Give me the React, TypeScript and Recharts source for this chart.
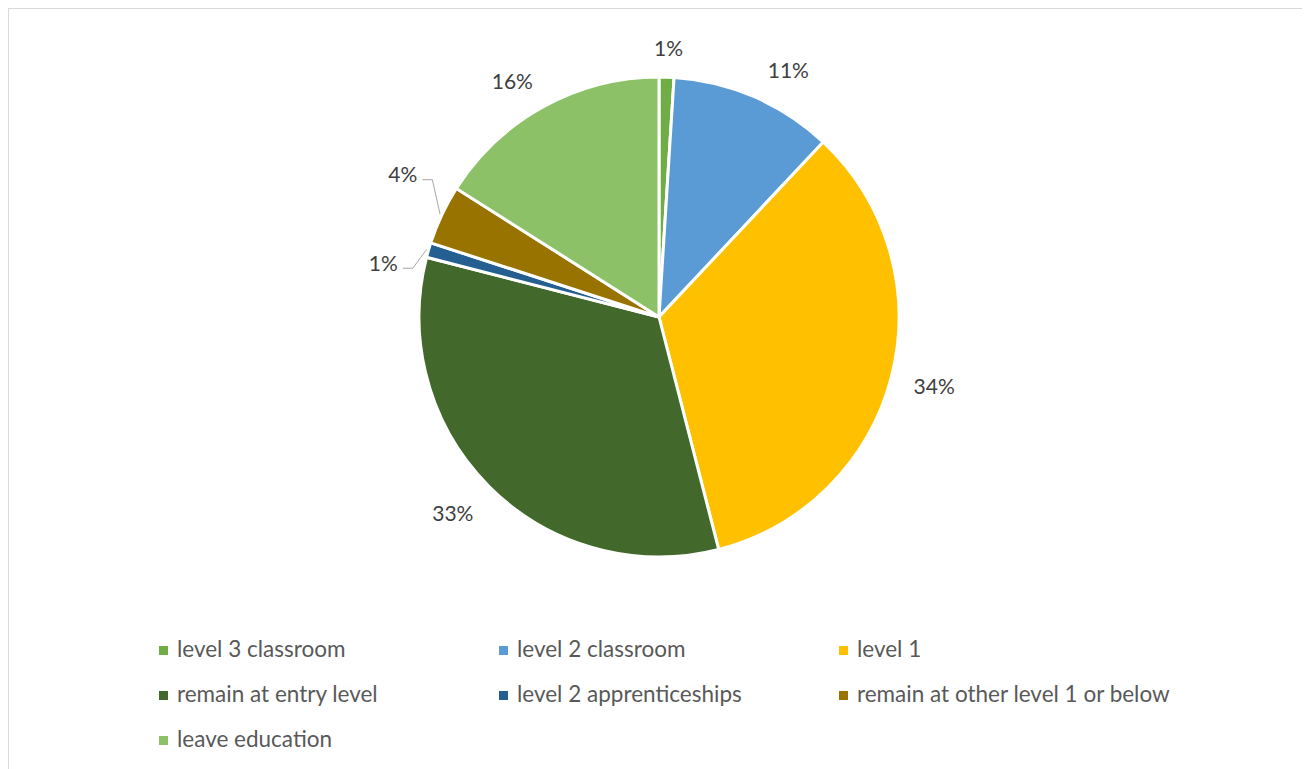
import React from 'react';
import { PieChart, Pie, Cell, Legend } from 'recharts';

const categories = [
  'level 3 classroom',
  'level 2 classroom',
  'level 1',
  'remain at entry level',
  'level 2 apprenticeships',
  'remain at other level 1 or below',
  'leave education',
];
const shares = [1, 11, 34, 33, 1, 4, 16];
const colors = ['#70AD47', '#5B9BD5', '#FFC000', '#43682B', '#255E91', '#997300', '#8CC168'];

const data = categories.map((name, i) => ({ name, value: shares[i] }));

const FONT = 'Lato, "Open Sans", sans-serif';
const RAD = Math.PI / 180;
// label placement tweaks (style only): angular nudge and extra radius for leader-line labels
const LEADER: Record<number, { nudge: number; extra: number }> = {
  4: { nudge: 5, extra: 11 },
  5: { nudge: -6, extra: 25 },
};

const clamp = (v: number) => Math.max(-1, Math.min(1, v));

const renderLabel = (props: any) => {
  const { cx, cy, midAngle, outerRadius, percent, index } = props;
  const text = `${Math.round(percent * 100)}%`;
  const leader = LEADER[index];
  if (leader) {
    const ma = midAngle * RAD;
    const px = cx + (outerRadius + 2) * Math.cos(ma);
    const py = cy - (outerRadius + 2) * Math.sin(ma);
    const ea = (midAngle + leader.nudge) * RAD;
    const er = outerRadius + leader.extra;
    const ex = cx + er * Math.cos(ea);
    const ey = cy - er * Math.sin(ea);
    const dir = Math.cos(ea) < 0 ? -1 : 1;
    const hx = ex + dir * 10;
    return (
      <g key={`lbl-${index}`}>
        <polyline points={`${px},${py} ${ex},${ey} ${hx},${ey}`} fill="none" stroke="#A6A6A6" strokeWidth={1} />
        <text
          x={hx + dir * 5}
          y={ey - 6}
          textAnchor={dir < 0 ? 'end' : 'start'}
          dominantBaseline="central"
          fill="#404040"
          fontSize={21}
          fontFamily={FONT}
        >
          {text}
        </text>
      </g>
    );
  }
  const a = midAngle * RAD;
  const cos = Math.cos(a);
  const sin = Math.sin(a);
  const r = outerRadius + 24;
  const ax = cx + r * cos;
  const ay = cy - r * sin;
  const w = text.length * 13;
  const h = 18;
  const x = ax + (w / 2) * clamp(cos * 3) + (cos > 0.2 && sin > 0.2 ? 5 : 0);
  const y = ay - (h / 2) * clamp(sin) + (sin < 0 ? 4 * -sin : 3);
  return (
    <text
      key={`lbl-${index}`}
      x={x}
      y={y}
      textAnchor="middle"
      dominantBaseline="central"
      fill="#404040"
      fontSize={21}
      fontFamily={FONT}
    >
      {text}
    </text>
  );
};

const LegendContent = () => (
  <div style={{ display: 'flex', flexWrap: 'wrap', width: 1020, fontFamily: FONT }}>
    {categories.map((name, i) => (
      <div key={name} style={{ width: 340, height: 45, display: 'flex', alignItems: 'center' }}>
        <span style={{ width: 9, height: 9, background: colors[i], marginRight: 9, marginTop: 3, flexShrink: 0 }} />
        <span style={{ fontSize: 22.5, color: '#595959', whiteSpace: 'nowrap' }}>{name}</span>
      </div>
    ))}
  </div>
);

export default function App() {
  return (
    <div
      style={{
        width: 1300,
        height: 770,
        border: '1px solid #D9D9D9',
        background: '#fff',
        position: 'relative',
      }}
    >
      <PieChart width={1300} height={770} margin={{ top: 0, right: 0, bottom: 0, left: 0 }}>
        <Pie
          data={data}
          dataKey="value"
          nameKey="name"
          cx={650}
          cy={308}
          outerRadius={240}
          startAngle={90}
          endAngle={-270}
          stroke="#FFFFFF"
          strokeWidth={3}
          label={renderLabel}
          labelLine={false}
          isAnimationActive={false}
        >
          {data.map((d, i) => (
            <Cell key={d.name} fill={colors[i]} />
          ))}
        </Pie>
        <Legend
          content={() => <LegendContent />}
          wrapperStyle={{ position: 'absolute', left: 150, top: 617, width: 1020, height: 135, bottom: 'auto' }}
        />
      </PieChart>
    </div>
  );
}
